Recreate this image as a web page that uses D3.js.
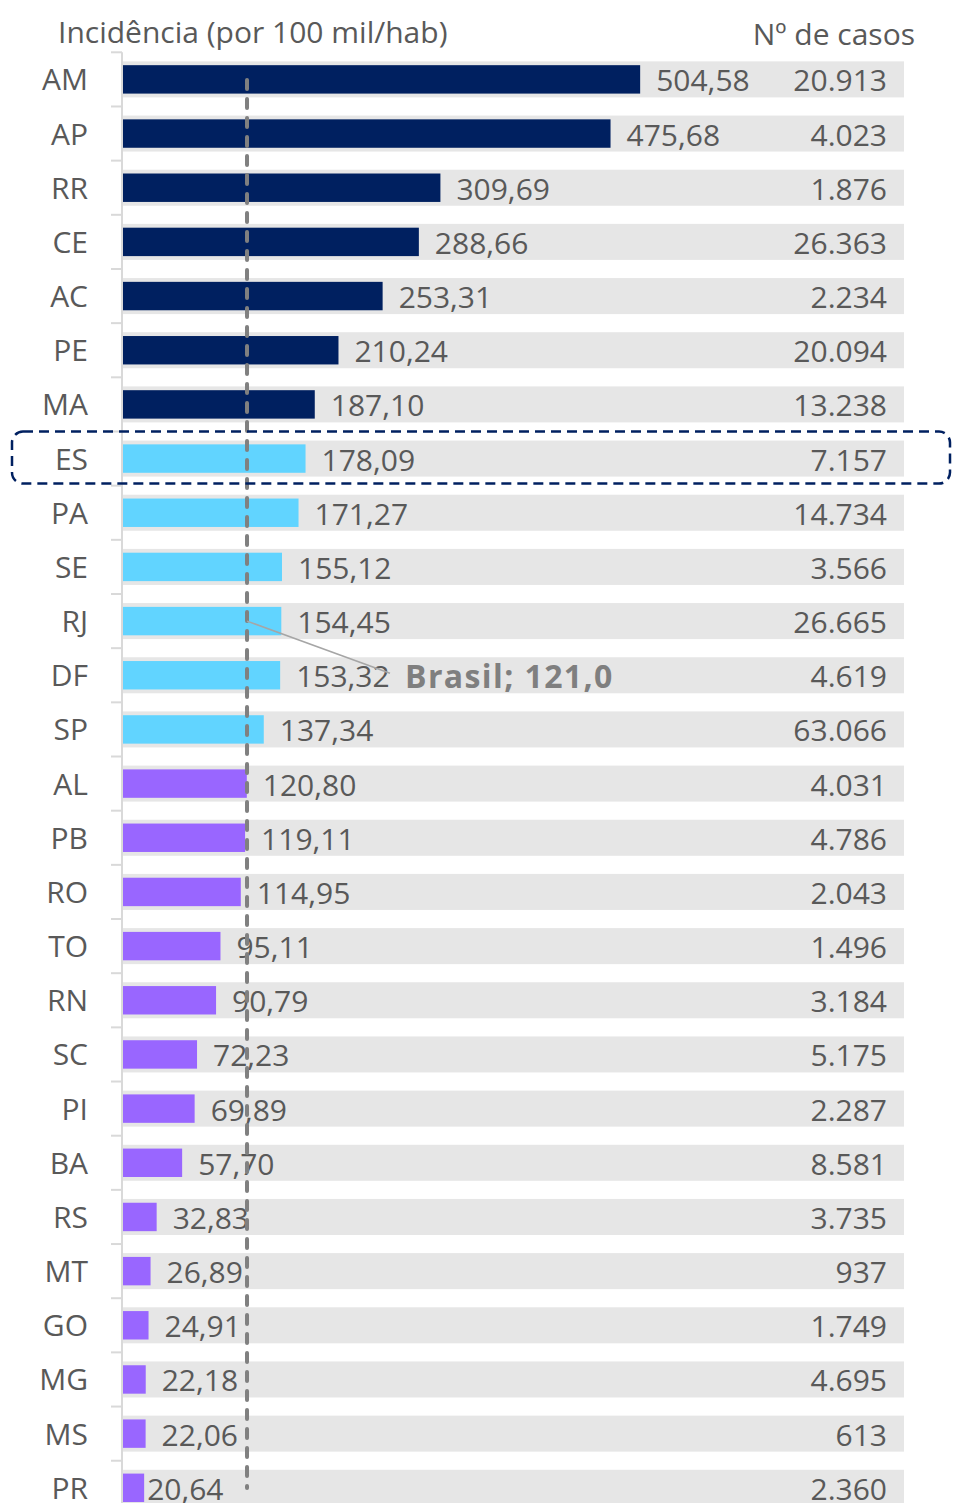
<!DOCTYPE html>
<html>
<head>
<meta charset="utf-8">
<script src="https://cdn.jsdelivr.net/npm/d3@7"></script>
<style>
    body { margin: 0; background: #fff; }
    text { font-family: "Open Sans", "Noto Sans", sans-serif; fill: #595959; }
</style>
</head>
<body>
<div id="chart"></div>
<script>
// estados, ordenados pela incidência
let states = ["AM", "AP", "RR", "CE", "AC", "PE", "MA", "ES", "PA", "SE", "RJ", "DF", "SP",
    "AL", "PB", "RO", "TO", "RN", "SC", "PI", "BA", "RS", "MT", "GO", "MG", "MS", "PR"];

// incidência por 100 mil hab
let incidence = [504.58, 475.68, 309.69, 288.66, 253.31, 210.24, 187.10, 178.09, 171.27, 155.12,
    154.45, 153.32, 137.34, 120.80, 119.11, 114.95, 95.11, 90.79, 72.23, 69.89, 57.70, 32.83,
    26.89, 24.91, 22.18, 22.06, 20.64];

// nº de casos
let cases = [20913, 4023, 1876, 26363, 2234, 20094, 13238, 7157, 14734, 3566, 26665, 4619, 63066,
    4031, 4786, 2043, 1496, 3184, 5175, 2287, 8581, 3735, 937, 1749, 4695, 613, 2360];

// faixa de cada estado (0 = alta, 1 = média, 2 = abaixo do Brasil)
let groups = [0, 0, 0, 0, 0, 0, 0, 1, 1, 1, 1, 1, 1,
    2, 2, 2, 2, 2, 2, 2, 2, 2, 2, 2, 2, 2, 2];

let brasil = 121.0;
let highlight = "ES";

let data = states.map((s, i) => ({state: s, value: incidence[i], cases: cases[i], group: groups[i]}));

let width = 953, height = 1503;
let colors = ["#002060", "#61d4ff", "#9966ff"];

let locale = d3.formatLocale({decimal: ",", thousands: ".", grouping: [3], currency: ["R$", ""]});
let fmtValue = locale.format(".2f");
let fmtCases = locale.format(",d");
let fmtBrasil = locale.format(".1f");

let svg = d3.select("#chart").append("svg")
    .attr("width", width)
    .attr("height", height);

let x = d3.scaleLinear()
    .domain([0, 762])
    .range([123, 904]);

let y = d3.scaleBand()
    .domain(states)
    .range([52.3, 52.3 + 27 * 54.17])
    .paddingInner(0.335)
    .paddingOuter(0.1675);

let bw = y.bandwidth();
let inset = 3.8;

// fundo cinza
svg.append("g")
    .selectAll("rect")
    .data(data)
    .enter()
    .append("rect")
    .attr("x", x(0))
    .attr("y", d => y(d.state))
    .attr("width", x(762) - x(0))
    .attr("height", bw)
    .attr("fill", "#e6e6e6");

// barras
svg.append("g")
    .selectAll("rect")
    .data(data)
    .enter()
    .append("rect")
    .attr("x", x(0))
    .attr("y", d => y(d.state) + inset)
    .attr("width", d => x(d.value) - x(0))
    .attr("height", bw - 2 * inset)
    .attr("fill", d => colors[d.group]);

// eixo vertical com ticks
let step = y.step();
let axisG = svg.append("g");
axisG.append("line")
    .attr("x1", 122).attr("x2", 122)
    .attr("y1", y.range()[0]).attr("y2", height)
    .attr("stroke", "#d9d9d9")
    .attr("stroke-width", 2);
axisG.selectAll(".tick")
    .data(d3.range(states.length + 1))
    .enter()
    .append("line")
    .attr("x1", 111).attr("x2", 122)
    .attr("y1", i => y.range()[0] + i * step)
    .attr("y2", i => y.range()[0] + i * step)
    .attr("stroke", "#d9d9d9")
    .attr("stroke-width", 2);

// rótulos dos estados
svg.append("g")
    .selectAll("text")
    .data(data)
    .enter()
    .append("text")
    .attr("x", 88)
    .attr("y", d => y(d.state) + bw / 2 + 11)
    .attr("text-anchor", "end")
    .style("font-size", "30px")
    .text(d => d.state);

// valores de incidência (o último rótulo o Excel encostou na barra)
svg.append("g")
    .selectAll("text")
    .data(data)
    .enter()
    .append("text")
    .attr("x", (d, i) => x(d.value) + (i === data.length - 1 ? 3 : 16))
    .attr("y", d => y(d.state) + bw / 2 + 12)
    .style("font-size", "30px")
    .text(d => fmtValue(d.value));

// nº de casos
svg.append("g")
    .selectAll("text")
    .data(data)
    .enter()
    .append("text")
    .attr("x", 887)
    .attr("y", d => y(d.state) + bw / 2 + 12)
    .attr("text-anchor", "end")
    .style("font-size", "30px")
    .text(d => fmtCases(d.cases));

// títulos
svg.append("text")
    .attr("x", 58)
    .attr("y", 43)
    .style("font-size", "30px")
    .text("Incidência (por 100 mil/hab)");

svg.append("text")
    .attr("x", 915)
    .attr("y", 45)
    .attr("text-anchor", "end")
    .style("font-size", "30px")
    .text("Nº de casos");

// linha do Brasil
svg.append("line")
    .attr("x1", x(brasil)).attr("x2", x(brasil))
    .attr("y1", 80).attr("y2", 1488)
    .attr("stroke", "#808080")
    .attr("stroke-width", 4)
    .attr("stroke-linecap", "round")
    .attr("stroke-dasharray", "9,10");

// anotação Brasil
let rjY = y("RJ") + bw / 2;
let dfY = y("DF") + bw / 2;
svg.append("line")
    .attr("x1", x(brasil)).attr("y1", rjY)
    .attr("x2", 390).attr("y2", dfY - 2)
    .attr("stroke", "#a6a6a6")
    .attr("stroke-width", 1.5);

svg.append("text")
    .attr("x", 405)
    .attr("y", dfY + 13)
    .style("font-size", "32px")
    .style("font-weight", "bold")
    .style("letter-spacing", "1.4px")
    .style("fill", "#7f7f7f")
    .text("Brasil; " + fmtBrasil(brasil));

// destaque ES
let esY = y(highlight) + bw / 2;
svg.append("rect")
    .attr("x", 12)
    .attr("y", esY - 27)
    .attr("width", 938)
    .attr("height", 52)
    .attr("rx", 11)
    .attr("fill", "none")
    .attr("stroke", "#002060")
    .attr("stroke-width", 2.5)
    .attr("stroke-dasharray", "10,6");
</script>
</body>
</html>
